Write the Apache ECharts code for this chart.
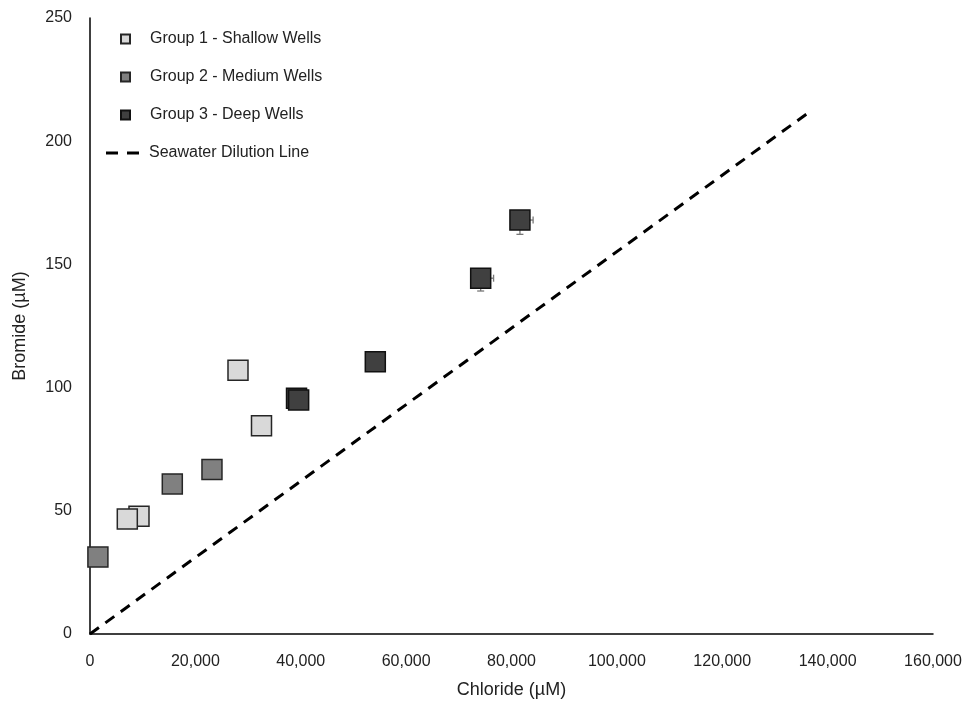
<!DOCTYPE html>
<html><head><meta charset="utf-8">
<script src="https://cdn.jsdelivr.net/npm/echarts@6/dist/echarts.min.js"></script>
<style>html,body{margin:0;padding:0;background:#fff}#c{width:971px;height:704px}</style>
</head><body><div id="c"></div>
<script>
// Data (Chloride µM, Bromide µM)
const group1 = [[28090, 107.0], [32550, 84.5], [9300, 47.8], [7080, 46.7]];
const group2 = [[1500, 31.2], [15620, 60.9], [23150, 66.8]];
const group3 = [[39200, 95.7], [39600, 95.0], [54150, 110.5], [74150, 144.4], [81600, 168.0]];
// error bars for group 3 (x error, y error)
const group3ErrX = [0, 0, 0, 2450, 2500];
const group3ErrY = [0, 0, 0, 5.2, 5.8];
const seawaterLine = [[0, 0], [136300, 211.5]];
const xTicks = [0, 20000, 40000, 60000, 80000, 100000, 120000, 140000, 160000];
const yTicks = [0, 50, 100, 150, 200, 250];

const font = 'Liberation Sans, Arial, sans-serif';
const errData = group3.map((p, i) => [p[0], p[1], group3ErrX[i], group3ErrY[i]]);
const sq = 'path://M0,0H10V10H0Z';

const chart = echarts.init(document.getElementById('c'));
chart.setOption({
  animation: false,
  backgroundColor: '#fff',
  grid: { left: 90, right: 38, top: 18, bottom: 70 },
  legend: [
    {
      orient: 'vertical', left: 115, top: 26, itemGap: 22, itemWidth: 9, itemHeight: 9,
      textStyle: { fontFamily: font, fontSize: 16, color: '#222', padding: [0, 0, 0, 15] },
      data: [
        { name: 'Group 1 - Shallow Wells', icon: sq },
        { name: 'Group 2 - Medium Wells', icon: sq },
        { name: 'Group 3 - Deep Wells', icon: sq }
      ]
    },
    {
      orient: 'vertical', left: 101, top: 140, itemWidth: 33, itemHeight: 3,
      textStyle: { fontFamily: font, fontSize: 16, color: '#222', padding: [0, 0, 0, 5] },
      data: [{ name: 'Seawater Dilution Line', icon: 'path://M0,0H12V3H0Z M21,0H33V3H21Z' }]
    }
  ],
  xAxis: {
    type: 'value', min: 0, max: 160000, interval: 20000,
    name: 'Chloride (µM)', nameLocation: 'middle', nameGap: 47,
    nameTextStyle: { fontFamily: font, fontSize: 18, color: '#222' },
    axisLine: { show: true, lineStyle: { color: '#000', width: 1.5 } },
    axisTick: { show: false }, splitLine: { show: false },
    axisLabel: { fontFamily: font, fontSize: 16, color: '#222', margin: 20,
      formatter: v => v.toLocaleString('en-US') }
  },
  yAxis: {
    type: 'value', min: 0, max: 250, interval: 50,
    name: 'Bromide (µM)', nameLocation: 'middle', nameGap: 61,
    nameTextStyle: { fontFamily: font, fontSize: 18, color: '#222' },
    axisLine: { show: true, lineStyle: { color: '#000', width: 1.5 } },
    axisTick: { show: false }, splitLine: { show: false },
    axisLabel: { fontFamily: font, fontSize: 16, color: '#222', margin: 18 }
  },
  series: [
    {
      name: 'Seawater Dilution Line', type: 'line', data: seawaterLine, symbol: 'none',
      lineStyle: { color: '#000', width: 3, type: [11, 8] }, itemStyle: { color: '#000' }, z: 1
    },
    {
      name: 'errbars', type: 'custom', data: errData, z: 2, silent: true,
      renderItem: (params, api) => {
        const x = api.value(0), y = api.value(1), ex = api.value(2), ey = api.value(3);
        if (!ex && !ey) return { type: 'group', children: [] };
        const c = api.coord([x, y]);
        const r = api.coord([x + ex, y]);
        const b = api.coord([x, y - ey]);
        const st = { stroke: '#777', lineWidth: 1.3 };
        const cap = 3.5;
        return { type: 'group', children: [
          { type: 'line', shape: { x1: c[0], y1: c[1], x2: r[0], y2: c[1] }, style: st },
          { type: 'line', shape: { x1: r[0], y1: c[1]-cap, x2: r[0], y2: c[1]+cap }, style: st },
          { type: 'line', shape: { x1: c[0], y1: c[1], x2: c[0], y2: b[1] }, style: st },
          { type: 'line', shape: { x1: c[0]-cap, y1: b[1], x2: c[0]+cap, y2: b[1] }, style: st }
        ]};
      }
    },
    {
      name: 'Group 1 - Shallow Wells', type: 'scatter', data: group1, symbol: 'rect', symbolSize: 20, z: 3,
      itemStyle: { color: '#d9d9d9', borderColor: '#262626', borderWidth: 1.5, opacity: 1 }
    },
    {
      name: 'Group 2 - Medium Wells', type: 'scatter', data: group2, symbol: 'rect', symbolSize: 20, z: 3,
      itemStyle: { color: '#808080', borderColor: '#262626', borderWidth: 1.5, opacity: 1 }
    },
    {
      name: 'Group 3 - Deep Wells', type: 'scatter', data: group3, symbol: 'rect', symbolSize: 20, z: 3,
      itemStyle: { color: '#404040', borderColor: '#111', borderWidth: 1.5, opacity: 1 }
    }
  ]
});
</script></body></html>
